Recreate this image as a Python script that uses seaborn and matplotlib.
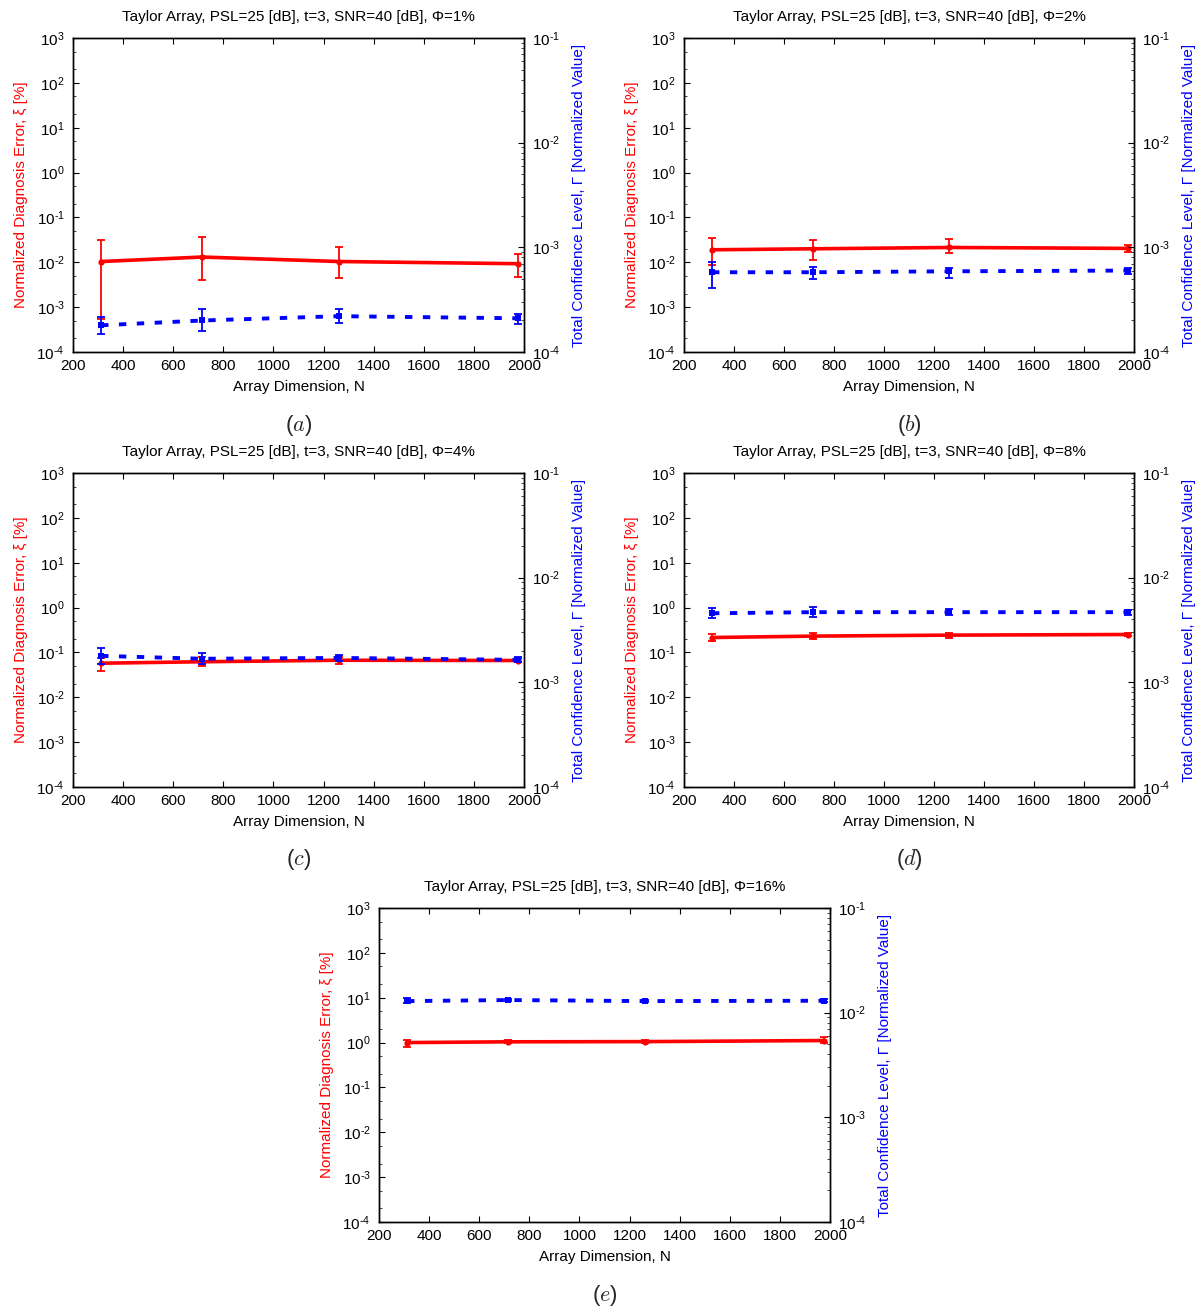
import numpy as np
import pandas as pd
import matplotlib
matplotlib.use("Agg")
import matplotlib.pyplot as plt
import seaborn as sns
from matplotlib.ticker import LogLocator, NullFormatter, MultipleLocator, FuncFormatter

# ---------------- data ----------------
N = [312, 716, 1262, 1976]
phi_labels = ["1%", "2%", "4%", "8%", "16%"]
panel_tags = ["a", "b", "c", "d", "e"]

# normalized diagnosis error xi [%] (mean, lower, upper)
xi_a = [0.0104, 0.0131, 0.0104, 0.0093]
xi_a_lo = [0.00055, 0.0041, 0.0045, 0.0048]
xi_a_hi = [0.032, 0.036, 0.022, 0.0155]

xi_b = [0.019, 0.020, 0.0214, 0.0204]
xi_b_lo = [0.0087, 0.0112, 0.0158, 0.017]
xi_b_hi = [0.035, 0.031, 0.033, 0.0245]

xi_c = [0.0575, 0.062, 0.067, 0.066]
xi_c_lo = [0.039, 0.049, 0.056, 0.060]
xi_c_hi = [0.074, 0.079, 0.081, 0.072]

xi_d = [0.215, 0.231, 0.243, 0.251]
xi_d_lo = [0.178, 0.195, 0.215, 0.228]
xi_d_hi = [0.260, 0.269, 0.277, 0.277]

xi_e = [1.00, 1.04, 1.05, 1.11]
xi_e_lo = [0.81, 0.96, 0.97, 0.97]
xi_e_hi = [1.15, 1.13, 1.14, 1.36]

# total confidence level Gamma (mean, lower, upper)
g_a = [1.80e-4, 2.00e-4, 2.20e-4, 2.10e-4]
g_a_lo = [1.49e-4, 1.58e-4, 1.90e-4, 1.86e-4]
g_a_hi = [2.16e-4, 2.57e-4, 2.58e-4, 2.33e-4]

g_b = [5.78e-4, 5.78e-4, 5.90e-4, 6.00e-4]
g_b_lo = [4.12e-4, 5.00e-4, 5.10e-4, 5.57e-4]
g_b_hi = [7.30e-4, 6.55e-4, 6.36e-4, 6.30e-4]

g_c = [1.79e-3, 1.68e-3, 1.71e-3, 1.64e-3]
g_c_lo = [1.49e-3, 1.51e-3, 1.59e-3, 1.55e-3]
g_c_hi = [2.15e-3, 1.90e-3, 1.83e-3, 1.74e-3]

g_d = [4.57e-3, 4.68e-3, 4.68e-3, 4.68e-3]
g_d_lo = [4.09e-3, 4.18e-3, 4.37e-3, 4.43e-3]
g_d_hi = [5.10e-3, 5.29e-3, 5.00e-3, 4.93e-3]

g_e = [1.29e-2, 1.32e-2, 1.29e-2, 1.30e-2]
g_e_lo = [1.23e-2, 1.28e-2, 1.26e-2, 1.26e-2]
g_e_hi = [1.37e-2, 1.36e-2, 1.32e-2, 1.34e-2]

xi_sets = [(xi_a, xi_a_lo, xi_a_hi), (xi_b, xi_b_lo, xi_b_hi), (xi_c, xi_c_lo, xi_c_hi),
           (xi_d, xi_d_lo, xi_d_hi), (xi_e, xi_e_lo, xi_e_hi)]
g_sets = [(g_a, g_a_lo, g_a_hi), (g_b, g_b_lo, g_b_hi), (g_c, g_c_lo, g_c_hi),
          (g_d, g_d_lo, g_d_hi), (g_e, g_e_lo, g_e_hi)]

# ---------------- style ----------------
sns.set_theme(style="ticks")
plt.rcParams["font.family"] = ["Liberation Sans", "DejaVu Sans"]
plt.rcParams["mathtext.fontset"] = "custom"
plt.rcParams["mathtext.rm"] = "Liberation Sans"
plt.rcParams["mathtext.it"] = "Liberation Sans:italic"
plt.rcParams["mathtext.default"] = "regular"


def pow_fmt(v, pos):
    e = int(round(np.log10(v)))
    if e < 0:
        return r"$10^{\text{-}%d}$" % (-e)
    return r"$10^{%d}$" % e


W, H = 1204, 1313
fig = plt.figure(figsize=(W / 100, H / 100), dpi=100)

# axes rectangles in pixels: left, top, right, bottom
rects = [(73, 38, 524, 352), (684, 38, 1134, 352),
         (73, 473, 524, 787), (684, 473, 1134, 787),
         (379, 908, 830, 1222)]

FS = 11

for i, (l, t, r, b) in enumerate(rects):
    ax = fig.add_axes([l / W, 1 - b / H, (r - l) / W, (b - t) / H])
    ax2 = ax.twinx()

    xi, xlo, xhi = [np.array(v) for v in xi_sets[i]]
    g, glo, ghi = [np.array(v) for v in g_sets[i]]

    df1 = pd.DataFrame({"N": N, "xi": xi})
    df2 = pd.DataFrame({"N": N, "g": g})

    sns.lineplot(data=df1, x="N", y="xi", ax=ax, color="#ff0000", lw=2.6,
                 marker="o", markersize=4.5, markeredgewidth=0, sort=False,
                 estimator=None, errorbar=None, zorder=3)
    ax.errorbar(N, xi, yerr=[xi - xlo, xhi - xi], fmt="none", ecolor="#ff0000",
                elinewidth=1.3, capsize=3, capthick=1.3, zorder=3)

    sns.lineplot(data=df2, x="N", y="g", ax=ax2, color="#0000ff", lw=2.8,
                 marker="s", markersize=4.5, markeredgewidth=0, sort=False,
                 estimator=None, errorbar=None, zorder=3)
    ax2.lines[-1].set_dashes((1.9, 2.7))
    ax2.errorbar(N, g, yerr=[g - glo, ghi - g], fmt="none", ecolor="#0000ff",
                 elinewidth=1.3, capsize=3, capthick=1.3, zorder=3)

    ax.set_yscale("log")
    ax2.set_yscale("log")
    ax.set_xlim(200, 2000)
    ax.set_ylim(1e-4, 1e3)
    ax2.set_ylim(1e-4, 1e-1)

    ax.xaxis.set_major_locator(MultipleLocator(200))
    ax.yaxis.set_major_locator(LogLocator(base=10, numticks=20))
    ax.yaxis.set_major_formatter(FuncFormatter(pow_fmt))
    ax.yaxis.set_minor_locator(LogLocator(base=10, subs=(2.0, 5.0), numticks=20))
    ax.yaxis.set_minor_formatter(NullFormatter())
    ax2.yaxis.set_major_locator(LogLocator(base=10, numticks=20))
    ax2.yaxis.set_major_formatter(FuncFormatter(pow_fmt))
    ax2.yaxis.set_minor_locator(LogLocator(base=10, subs=np.arange(2, 10), numticks=20))
    ax2.yaxis.set_minor_formatter(NullFormatter())

    ax.tick_params(axis="x", which="major", direction="in", top=True, bottom=True,
                   length=4, width=0.8, labelsize=FS, pad=5, colors="black")
    ax.tick_params(axis="y", which="major", direction="in", left=True, right=False,
                   length=4, width=0.8, labelsize=FS, pad=6, colors="black")
    ax.tick_params(axis="y", which="minor", direction="in", left=True, right=False,
                   length=2.5, width=0.6)
    ax2.tick_params(axis="y", which="major", direction="in", right=True, left=False,
                    length=4, width=0.8, labelsize=FS, pad=6, colors="black")
    ax2.tick_params(axis="y", which="minor", direction="in", right=True, left=False,
                    length=2.5, width=0.6)

    for a in (ax, ax2):
        for s in a.spines.values():
            s.set_color("black")
            s.set_linewidth(1.0)

    ax.set_xlabel("Array Dimension, N", fontsize=FS, labelpad=5, color="black")
    ax.set_ylabel("Normalized Diagnosis Error, ξ [%]", fontsize=FS, color="#ff0000", labelpad=6)
    ax2.set_ylabel("Total Confidence Level, Γ [Normalized Value]", fontsize=FS,
                   color="#0000ff", labelpad=8)
    ax.set_title(f"Taylor Array, PSL=25 [dB], t=3, SNR=40 [dB], Φ={phi_labels[i]}",
                 fontsize=FS, pad=12, color="black")

    cx = (l + r) / 2 / W
    cy = 1 - (b + 73) / H
    fig.text(cx, cy, r"$(\mathit{%s})$" % panel_tags[i], fontsize=16, ha="center",
             va="center", math_fontfamily="cm")

fig.savefig("out.png", dpi=100)
